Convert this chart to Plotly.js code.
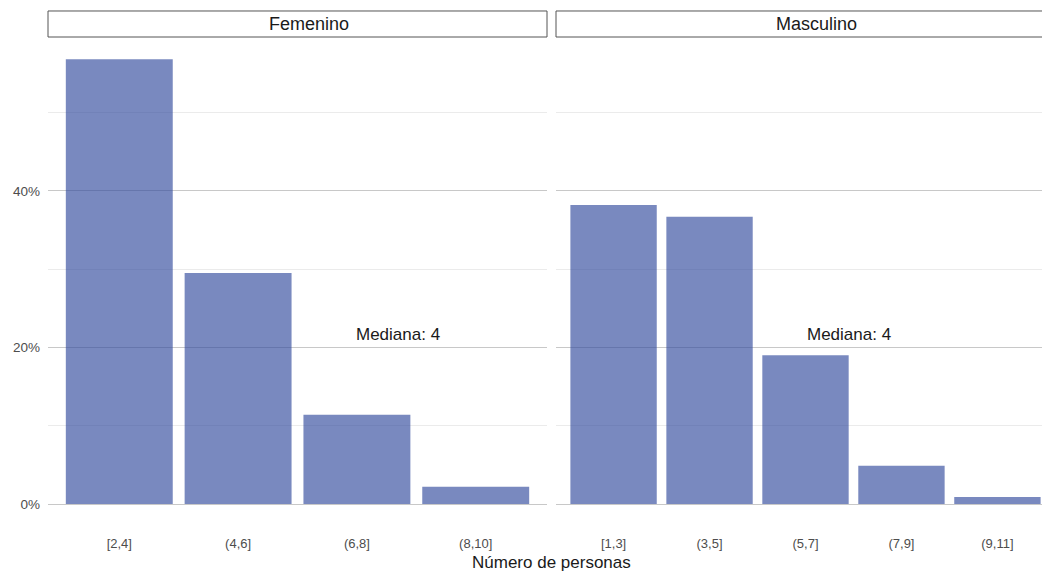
<!DOCTYPE html>
<html>
<head>
<meta charset="utf-8">
<script src="https://cdn.plot.ly/plotly-3.0.1.min.js"></script>
<style>html,body{margin:0;padding:0;background:#fff;}#chart{width:1042px;height:574px;}</style>
</head>
<body>
<div id="chart"></div>
<script>
// Data
const panelNames = ['Femenino', 'Masculino'];
const catF = ['[2,4]', '(4,6]', '(6,8]', '(8,10]'];
const valF = [56.8, 29.5, 11.4, 2.2];
const catM = ['[1,3]', '(3,5]', '(5,7]', '(7,9]', '(9,11]'];
const valM = [38.2, 36.7, 19.0, 4.9, 0.9];
const medianLabels = ['Mediana: 4', 'Mediana: 4'];
const yTicks = [0, 20, 40];
const yMinorTicks = [10, 30, 50];
const xTitle = 'Número de personas';

const FONT = '"Liberation Sans", Arial, Helvetica, sans-serif';
const barColor = 'rgba(49,73,157,0.65)';

const traces = [
  {type: 'bar', x: catF, y: valF, xaxis: 'x', yaxis: 'y', marker: {color: barColor, line: {width: 0}}, hoverinfo: 'x+y'},
  {type: 'bar', x: catM, y: valM, xaxis: 'x2', yaxis: 'y2', marker: {color: barColor, line: {width: 0}}, hoverinfo: 'x+y'}
];

const yRange = [0, Math.max(...valF, ...valM) * 1.05];

const yCommon = {
  range: yRange,
  tickvals: yTicks,
  ticktext: yTicks.map(v => v + '%'),
  showgrid: true,
  gridcolor: '#c8c8c8',
  gridwidth: 1.2,
  zeroline: false,
  showline: false,
  ticks: '',
  minor: {tickvals: yMinorTicks, showgrid: true, gridcolor: '#ebebeb', gridwidth: 1, ticks: ''},
  tickfont: {family: FONT, size: 13.5, color: '#4d4d4d'},
  ticklabelstandoff: 7,
  fixedrange: true
};

const xCommon = {
  type: 'category',
  showgrid: false,
  zeroline: false,
  showline: true,
  linecolor: '#c8c8c8',
  linewidth: 1.2,
  ticks: '',
  tickfont: {family: FONT, size: 13, color: '#4d4d4d'},
  ticklabelstandoff: 27,
  fixedrange: true
};

const layout = {
  width: 1042,
  height: 574,
  margin: {l: 48, r: 0, t: 37, b: 70, pad: 0},
  paper_bgcolor: '#ffffff',
  plot_bgcolor: '#ffffff',
  showlegend: false,
  bargap: 0.1,
  font: {family: FONT, color: '#1a1a1a'},
  xaxis: Object.assign({}, xCommon, {domain: [0, 499 / 994], range: [-0.6, catF.length - 0.4], anchor: 'y'}),
  xaxis2: Object.assign({}, xCommon, {domain: [508 / 994, 1], range: [-0.6, -0.6 + 486 / (499 / (catM.length + 0.2))], anchor: 'y2'}),
  yaxis: Object.assign({}, yCommon, {domain: [0, 1], anchor: 'x'}),
  yaxis2: Object.assign({}, yCommon, {domain: [0, 1], anchor: 'x2', matches: 'y', showticklabels: false}),
  shapes: [
    {type: 'rect', xref: 'paper', yref: 'paper', x0: 0, x1: 499 / 994, y0: 1.0, y1: 1.0557, fillcolor: '#ffffff', line: {color: '#555555', width: 1}},
    {type: 'rect', xref: 'paper', yref: 'paper', x0: 508 / 994, x1: 1.02, y0: 1.0, y1: 1.0557, fillcolor: '#ffffff', line: {color: '#555555', width: 1}}
  ],
  annotations: [
    {xref: 'paper', yref: 'paper', x: (249.5 + 11) / 994, y: 1.0278, text: panelNames[0], showarrow: false, xanchor: 'center', yanchor: 'middle', font: {family: FONT, size: 18, color: '#1a1a1a'}},
    {xref: 'paper', yref: 'paper', x: (508 + 249.5 + 11) / 994, y: 1.0278, text: panelNames[1], showarrow: false, xanchor: 'center', yanchor: 'middle', font: {family: FONT, size: 18, color: '#1a1a1a'}},
    {xref: 'x', yref: 'y', x: 2.35, y: 21.6, text: medianLabels[0], showarrow: false, xanchor: 'center', yanchor: 'middle', font: {family: FONT, size: 17, color: '#1a1a1a'}},
    {xref: 'x2', yref: 'y2', x: 2.45, y: 21.6, text: medianLabels[1], showarrow: false, xanchor: 'center', yanchor: 'middle', font: {family: FONT, size: 17, color: '#1a1a1a'}},
    {xref: 'paper', yref: 'paper', x: (1055 / 2 - 48 + 24) / 994, y: -0.1263, text: xTitle, showarrow: false, xanchor: 'center', yanchor: 'middle', font: {family: FONT, size: 17, color: '#1a1a1a'}}
  ]
};

Plotly.newPlot('chart', traces, layout, {staticPlot: true, displayModeBar: false});
</script>
</body>
</html>
